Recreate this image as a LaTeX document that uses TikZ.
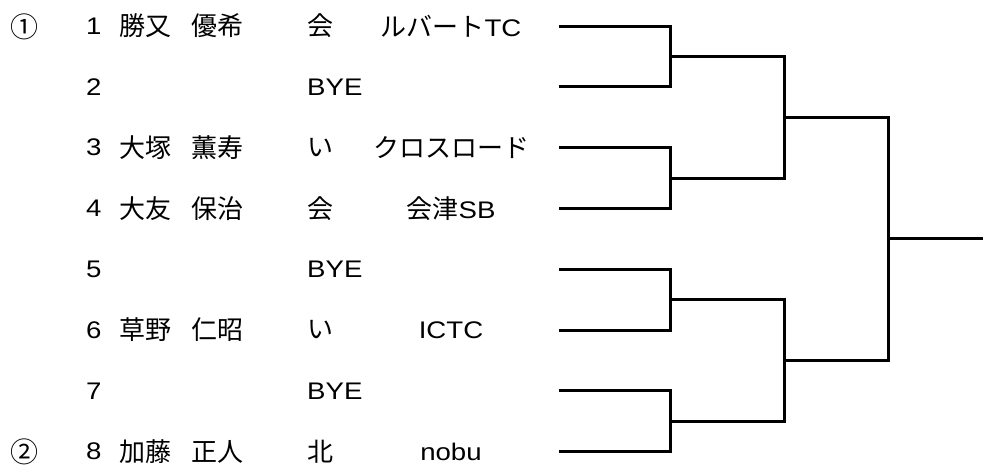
\documentclass[tikz,border=0pt]{standalone}
\usepackage{fontspec}
\setmainfont{Noto Sans CJK JP}
\newfontfamily\latinfont[FakeStretch=1.15]{Liberation Sans}
\newcommand{\latn}[1]{{\fontsize{24}{24}\latinfont #1}}

\begin{document}
\begin{tikzpicture}[x=1pt, y=-1pt]
\tikzstyle{line} = [line width=3pt]
\tikzstyle{jp} = [inner sep=0pt, font=\fontsize{26}{26}\selectfont]
\tikzstyle{lat} = [inner sep=0pt, font=\fontsize{24}{24}\latinfont]
\tikzstyle{seed} = [inner sep=0pt, text height=22pt, text depth=0pt, font=\fontsize{28}{28}\selectfont]
\useasboundingbox (0,0) rectangle (983,464);

% seeds
\node[seed] (c1) at (24,26) {①};
\node[seed] (c2) at (24,451.6) {②};

% draw numbers
\node[lat, anchor=west] (n1) at (86,26) {1};
\node[lat, anchor=west] (n2) at (86,86.8) {2};
\node[lat, anchor=west] (n3) at (86,147.6) {3};
\node[lat, anchor=west] (n4) at (86,208.4) {4};
\node[lat, anchor=west] (n5) at (86,269.2) {5};
\node[lat, anchor=west] (n6) at (86,330) {6};
\node[lat, anchor=west] (n7) at (86,390.8) {7};
\node[lat, anchor=west] (n8) at (86,451.6) {8};

% players
\node[jp, anchor=west] (p1) at (119,26) {勝又\hspace{20pt}優希};
\node[jp, anchor=west] (p3) at (119,147.6) {大塚\hspace{20pt}薫寿};
\node[jp, anchor=west] (p4) at (119,208.4) {大友\hspace{20pt}保治};
\node[jp, anchor=west] (p6) at (119,330) {草野\hspace{20pt}仁昭};
\node[jp, anchor=west] (p8) at (119,451.6) {加藤\hspace{20pt}正人};

\node[jp, anchor=west] (a1) at (307,26) {会};
\node[lat, anchor=west] (a2) at (307,86.8) {BYE};
\node[jp, anchor=west] (a3) at (307,147.6) {い};
\node[jp, anchor=west] (a4) at (307,208.4) {会};
\node[lat, anchor=west] (a5) at (307,269.2) {BYE};
\node[jp, anchor=west] (a6) at (307,330) {い};
\node[lat, anchor=west] (a7) at (307,390.8) {BYE};
\node[jp, anchor=west] (a8) at (307,451.6) {北};

\node[jp] (t1) at (451,26) {ルバート\latn{TC}};
\node[jp] (t3) at (451,147.6) {クロスロード};
\node[jp] (t4) at (451,208.4) {会津\latn{SB}};
\node[lat] (t6) at (451,330) {ICTC};
\node[lat] (t8) at (451,451.6) {nobu};

% bracket
\coordinate (s1) at (559,26);
\coordinate (s2) at (559,86.8);
\coordinate (s3) at (559,147.6);
\coordinate (s4) at (559,208.4);
\coordinate (s5) at (559,269.2);
\coordinate (s6) at (559,330);
\coordinate (s7) at (559,390.8);
\coordinate (s8) at (559,451.6);
\coordinate (j1) at (670,56.4);
\coordinate (j2) at (670,178);
\coordinate (j3) at (670,299.6);
\coordinate (j4) at (670,421.2);
\coordinate (k1) at (784,117.2);
\coordinate (k2) at (784,360.4);
\coordinate (m1) at (888,238.8);
\coordinate (w) at (983,238.8);
\draw[line] (s1) -| (j1) |- (s2);
\draw[line] (s3) -| (j2) |- (s4);
\draw[line] (s5) -| (j3) |- (s6);
\draw[line] (s7) -| (j4) |- (s8);
\draw[line] (j1) -| (k1) |- (j2);
\draw[line] (j3) -| (k2) |- (j4);
\draw[line] (k1) -| (m1) |- (k2);
\draw[line] (m1) -- (w);
\end{tikzpicture}
\end{document}
